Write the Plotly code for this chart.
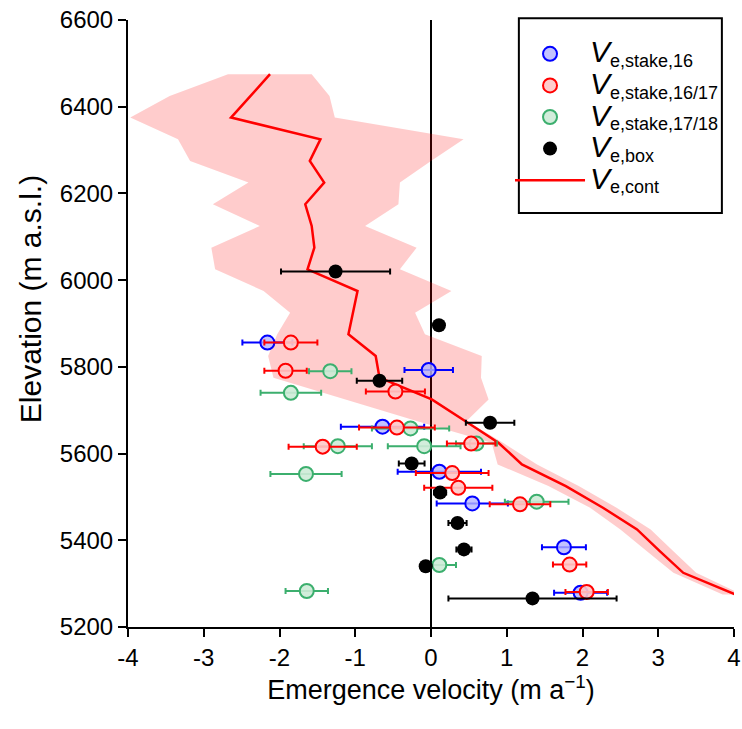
import plotly.graph_objects as go

# ---- continuous emergence velocity (line) ----
cont_elev = [5275, 5325, 5375, 5425, 5475, 5525, 5575, 5625, 5675, 5725, 5775, 5825,
             5875, 5975, 6025, 6075, 6125, 6175, 6225, 6275, 6325, 6375, 6475]
cont_v = [4.02, 3.33, 3.02, 2.72, 2.27, 1.78, 1.20, 0.89, 0.45, 0.01, -0.68, -0.73,
          -1.09, -0.97, -1.63, -1.54, -1.575, -1.66, -1.41, -1.60, -1.46, -2.64, -2.125]

# ---- uncertainty band ----
band_elev = [5275, 5325, 5375, 5425, 5475, 5525, 5575, 5625, 5675, 5725, 5775, 5825,
             5875, 5925, 5975, 6025, 6075, 6125, 6175, 6225, 6275, 6325, 6375, 6425, 6475]
band_low = [3.85, 3.20, 2.85, 2.50, 2.10, 1.55, 0.88, 0.80, -0.19, -1.15, -2.08, -2.15,
            -2.03, -1.86, -2.21, -2.85, -2.90, -2.26, -2.88, -2.41, -3.18, -3.34, -3.97, -3.45, -2.68]
band_high = [4.10, 3.50, 3.20, 2.90, 2.45, 1.95, 1.40, 0.95, 0.47, 0.76, 0.66, 0.67,
             -0.08, -0.21, 0.27, -0.41, -0.19, -0.87, -0.43, -0.41, 0.0, 0.43, -1.27, -1.34, -1.575]

# ---- stake 2016 (blue) ----
s16_v = [-2.16, -0.03, -0.64, 0.11, 0.545, 1.755, 1.975]
s16_elev = [5856, 5793, 5662, 5558, 5485, 5384, 5279]
s16_err = [0.33, 0.32, 0.55, 0.55, 0.47, 0.29, 0.35]

# ---- stake 2016/17 (red) ----
s1617_v = [-1.85, -1.92, -0.47, -0.45, -1.43, 0.53, 0.28, 0.36, 1.175, 1.83, 2.055]
s1617_elev = [5856, 5791, 5743, 5660, 5616, 5623, 5555, 5521, 5483, 5344, 5281]
s1617_err = [0.35, 0.28, 0.39, 0.50, 0.45, 0.32, 0.48, 0.45, 0.40, 0.22, 0.28]

# ---- stake 2017/18 (green) ----
s1718_v = [-1.33, -1.85, -0.27, -1.23, -0.09, 0.60, -1.65, 1.395, 0.11, -1.64]
s1718_elev = [5790, 5740, 5658, 5617, 5617, 5623, 5553, 5489, 5343, 5283]
s1718_err = [0.28, 0.40, 0.51, 0.45, 0.48, 0.27, 0.47, 0.42, 0.22, 0.28]

# ---- box method (black) ----
box_v = [-1.26, 0.105, -0.68, 0.78, -0.255, 0.12, 0.35, 0.435, -0.07, 1.34]
box_elev = [6020, 5896, 5768, 5671, 5577, 5510, 5440, 5379, 5340, 5266]
box_err = [0.72, 0.06, 0.30, 0.32, 0.17, 0.08, 0.12, 0.10, 0.05, 1.11]

x_ticks = [-4, -3, -2, -1, 0, 1, 2, 3, 4]
x_ticktext = ["-4", "-3", "-2", "-1", "0", "1", "2", "3", "4"]
y_ticks = [5200, 5400, 5600, 5800, 6000, 6200, 6400, 6600]

BLUE = "rgb(0,0,255)"
RED = "rgb(255,0,0)"
GREEN = "rgb(60,175,110)"


def lab(sub):
    return ('<span style="font-size:30px"><i>V</i></span>'
            '<sub><span style="font-size:18px">' + sub + '</span></sub>')


fig = go.Figure()

# band polygon
fig.add_trace(go.Scatter(
    x=band_low + band_high[::-1],
    y=band_elev + band_elev[::-1],
    fill="toself", fillcolor="rgba(255,0,0,0.2)",
    line=dict(width=0), mode="lines", hoverinfo="skip", showlegend=False))

fig.add_trace(go.Scatter(
    x=cont_v, y=cont_elev, mode="lines",
    line=dict(color=RED, width=2.5),
    name=lab("e,cont"), legendrank=5))


def stake(xv, yv, err, col, fill, name, rank):
    return go.Scatter(
        x=xv, y=yv, mode="markers", name=name, legendrank=rank,
        error_x=dict(type="data", array=err, color=col, thickness=2, width=3),
        marker=dict(size=14, color=fill, line=dict(color=col, width=2)))


fig.add_trace(stake(s16_v, s16_elev, s16_err, BLUE, "rgba(180,180,255,0.8)",
                    lab("e,stake,16"), 1))
fig.add_trace(stake(s1718_v, s1718_elev, s1718_err, GREEN, "rgba(205,235,215,0.9)",
                    lab("e,stake,17/18"), 3))
fig.add_trace(stake(s1617_v, s1617_elev, s1617_err, RED, "rgba(255,200,200,0.9)",
                    lab("e,stake,16/17"), 2))
fig.add_trace(go.Scatter(
    x=box_v, y=box_elev, mode="markers", name=lab("e,box"), legendrank=4,
    error_x=dict(type="data", array=box_err, color="black", thickness=2, width=3),
    marker=dict(size=14, color="black")))

FONT = "Liberation Sans, Arial, sans-serif"

fig.update_layout(
    width=742, height=729,
    margin=dict(l=128, r=8, t=20, b=102),
    paper_bgcolor="white", plot_bgcolor="white",
    font=dict(family=FONT, size=20, color="black"),
    showlegend=True,
    legend=dict(
        x=0.6304, y=0.9786, xanchor="left", yanchor="top",
        borderwidth=0, bgcolor="rgba(0,0,0,0)",
        font=dict(family=FONT, size=22, color="black"),
        tracegroupgap=0, itemwidth=70),
    shapes=[dict(type="rect", xref="paper", yref="paper",
                 x0=0.645, x1=0.980, y0=0.682, y1=1.003,
                 line=dict(color="black", width=2), fillcolor="white", layer="above")],
    annotations=[dict(text="Elevation (m a.s.l.)", textangle=-90,
                      xref="paper", yref="paper", x=-0.1617, y=0.540,
                      xanchor="center", yanchor="middle", showarrow=False,
                      font=dict(family=FONT, size=30, color="black"))],
    xaxis=dict(
        range=[-4, 4], tickvals=x_ticks, ticktext=x_ticktext, automargin=False,
        showgrid=False, zeroline=True, zerolinecolor="black", zerolinewidth=2,
        showline=True, linecolor="black", linewidth=2,
        ticks="outside", ticklen=8, tickwidth=2, tickcolor="black",
        tickfont=dict(size=24),
        title=dict(text="Emergence velocity (m a<sup>\u22121</sup>)",
                   font=dict(size=27), standoff=1)),
    yaxis=dict(
        range=[5200, 6600], tickvals=y_ticks, automargin=False,
        showgrid=False, zeroline=False,
        showline=True, linecolor="black", linewidth=2,
        ticks="outside", ticklen=8, tickwidth=2, tickcolor="black",
        tickfont=dict(size=24)),
)

fig.write_html("out.html")
